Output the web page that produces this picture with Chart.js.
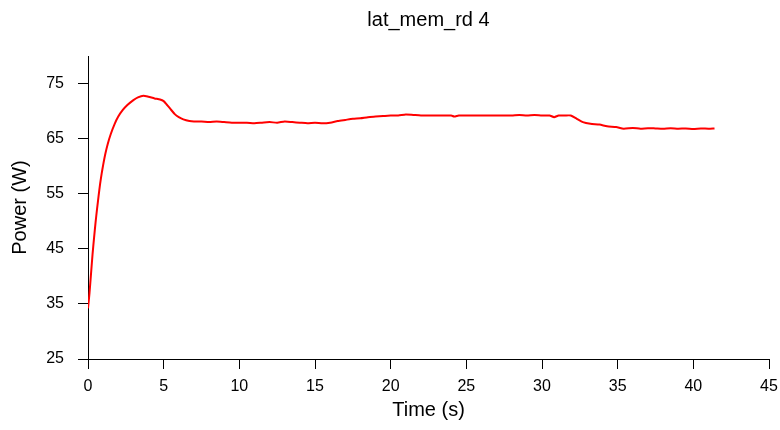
<!DOCTYPE html>
<html>
<head>
<meta charset="utf-8">
<script src="https://cdn.jsdelivr.net/npm/chart.js@4"></script>
<style>
  html, body { margin: 0; padding: 0; background: #fff; }
  #wrap { width: 780px; height: 430px; }
</style>
</head>
<body>
<div id="wrap"><canvas id="powerChart" width="780" height="430"></canvas></div>
<script>
const timeSec = [
  0, 0.1, 0.2, 0.3, 0.4, 0.5, 0.6, 0.7, 0.8, 0.9, 1.0, 1.15, 1.3, 1.5, 1.75,
  2.0, 2.3, 2.6, 3.0, 3.3, 3.66, 4.0, 4.4, 4.76, 5.0, 5.2, 5.5, 5.75, 6.0, 6.3,
  6.7, 7.0, 7.5, 8.0, 8.5, 9.0, 9.5, 10.0, 10.5, 11.0, 11.5, 12.0, 12.5, 13.0,
  13.5, 14.0, 14.5, 15.0, 15.5, 16.0, 16.5, 17.0, 17.5, 18.0, 18.5, 19.0, 19.5,
  20.0, 20.5, 21.0, 21.5, 22.0, 22.5, 23.0, 23.5, 24.0, 24.2, 24.5, 25.0, 25.5,
  26.0, 26.5, 27.0, 27.5, 28.0, 28.5, 29.0, 29.5, 30.0, 30.5, 30.8, 31.1, 31.5,
  31.9, 32.3, 32.7, 33.2, 33.8, 34.3, 34.9, 35.4, 36.0, 36.5, 37.0, 37.5, 38.0,
  38.5, 39.0, 39.5, 40.0, 40.5, 41.0, 41.4
];
const powerW = [
  34.2, 37.0, 40.5, 44.0, 47.0, 49.8, 52.3, 54.6, 56.8, 58.6, 60.2, 62.3, 64.0, 65.8, 67.6,
  69.0, 70.2, 71.1, 72.0, 72.5, 72.8, 72.6, 72.3, 72.1, 71.8, 71.2, 70.2, 69.4, 68.9, 68.5,
  68.2, 68.1, 68.1, 68.0, 68.1, 68.0, 67.9, 67.9, 67.9, 67.8, 67.9, 68.0, 67.9, 68.1,
  68.0, 67.9, 67.8, 67.9, 67.8, 67.9, 68.2, 68.4, 68.6, 68.7, 68.9, 69.0, 69.1,
  69.2, 69.2, 69.4, 69.3, 69.2, 69.2, 69.2, 69.2, 69.2, 69.0, 69.2, 69.2, 69.2,
  69.2, 69.2, 69.2, 69.2, 69.2, 69.3, 69.2, 69.3, 69.2, 69.2, 68.9, 69.2, 69.2,
  69.2, 68.6, 68.0, 67.7, 67.55, 67.25, 67.1, 66.8, 66.95, 66.8, 66.9, 66.85, 66.8,
  66.9, 66.8, 66.85, 66.75, 66.85, 66.8, 66.85
];
const xTicks = [0, 5, 10, 15, 20, 25, 30, 35, 40, 45];
const yTicks = [25, 35, 45, 55, 65, 75];

const FONT = '"Liberation Sans", Arial, sans-serif';

function axisStyle(ticks, pad) {
  return {
    type: 'linear',
    afterBuildTicks: (scale) => { scale.ticks = ticks.map((v) => ({ value: v })); },
    grid: {
      display: true,
      drawOnChartArea: false,
      drawTicks: true,
      tickLength: 10,
      tickColor: '#000',
      tickWidth: 1,
    },
    border: { display: true, color: '#000', width: 1 },
    ticks: {
      color: '#000',
      padding: pad,
      maxRotation: 0,
      autoSkip: false,
      font: { family: FONT, size: 16 },
    },
  };
}

const xScale = axisStyle(xTicks, 7.6);
xScale.min = 0;
xScale.max = 45;
xScale.afterFit = (scale) => {
  scale.height = 71;
  scale.paddingLeft = 0;
  scale.paddingRight = 0;
};
xScale.title = {
  display: true,
  text: 'Time (s)',
  color: '#000',
  font: { family: FONT, size: 20 },
  padding: { top: 0, bottom: 7.4 },
};

const yScale = axisStyle(yTicks, 14);
yScale.min = 25;
yScale.max = 80;
yScale.afterFit = (scale) => {
  scale.width = 88;
  scale.paddingTop = 0;
  scale.paddingBottom = 0;
};
yScale.title = {
  display: true,
  text: 'Power (W)',
  color: '#000',
  font: { family: FONT, size: 20 },
  padding: { top: 8.6, bottom: 0 },
};

new Chart(document.getElementById('powerChart'), {
  type: 'line',
  data: {
    datasets: [
      {
        label: 'lat_mem_rd 4',
        data: timeSec.map((t, i) => ({ x: t, y: powerW[i] })),
        borderColor: '#ff0000',
        borderWidth: 2,
        pointRadius: 0,
        tension: 0.2,
        fill: false,
      },
    ],
  },
  options: {
    responsive: false,
    animation: false,
    layout: { padding: { left: 0, right: 11, top: 0, bottom: 0 } },
    plugins: {
      legend: { display: false },
      tooltip: { enabled: false },
      title: {
        display: true,
        fullSize: false,
        text: 'lat_mem_rd 4',
        color: '#000',
        font: { family: FONT, size: 20, weight: 'normal' },
        padding: { top: 8.4, bottom: 23.6 },
      },
    },
    scales: { x: xScale, y: yScale },
  },
});
</script>
</body>
</html>
